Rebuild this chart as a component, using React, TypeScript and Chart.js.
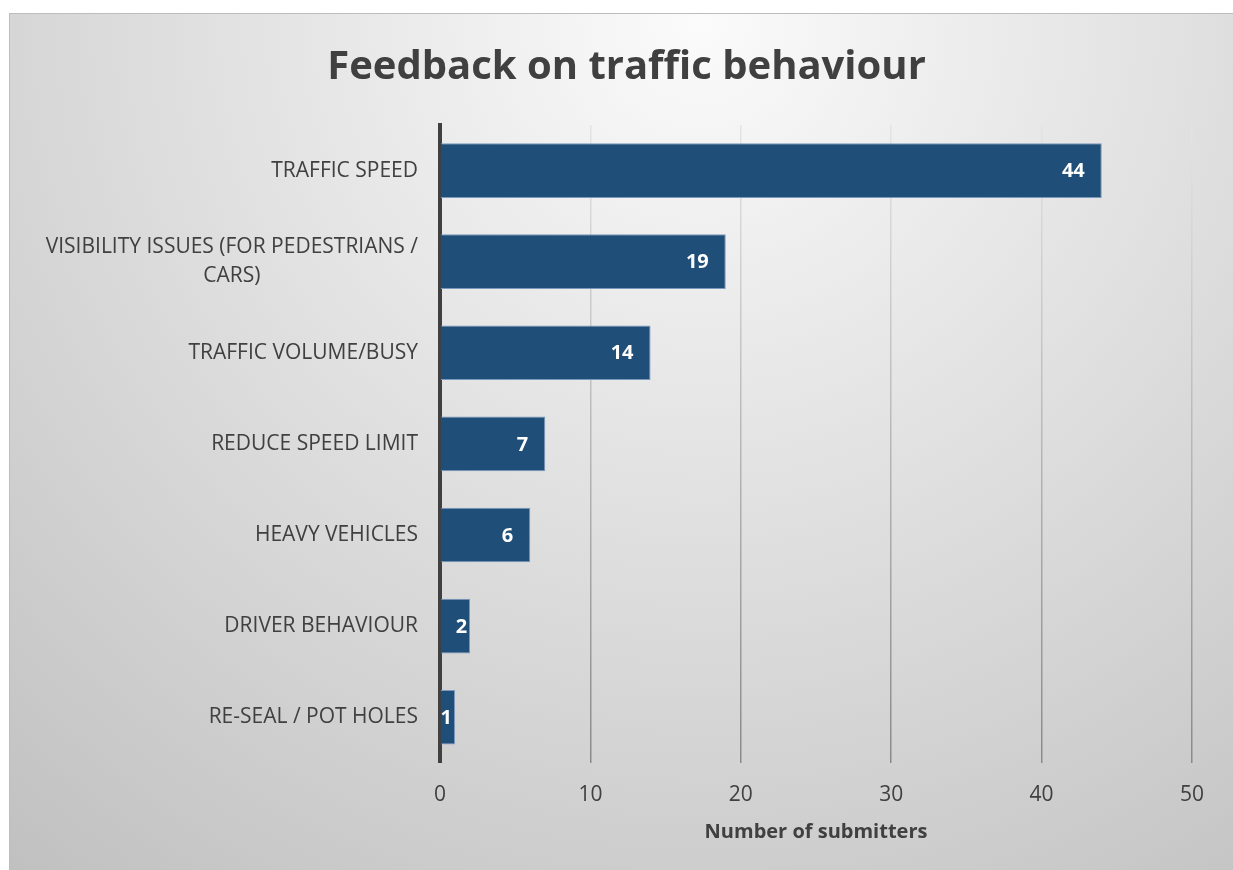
import React, { useEffect, useRef } from "react";
import { Chart, registerables } from "chart.js";

Chart.register(...registerables);

const chartTitle = "Feedback on traffic behaviour";
const axisTitle = "Number of submitters";
const categories: string[][] = [
  ["TRAFFIC SPEED"],
  ["VISIBILITY ISSUES (FOR PEDESTRIANS /", "CARS)"],
  ["TRAFFIC VOLUME/BUSY"],
  ["REDUCE SPEED LIMIT"],
  ["HEAVY VEHICLES"],
  ["DRIVER BEHAVIOUR"],
  ["RE-SEAL / POT HOLES"],
];
const submitters = [44, 19, 14, 7, 6, 2, 1];
const xMin = 0;
const xMax = 50;
const xStep = 10;

const FONT = "'Open Sans', 'DejaVu Sans', sans-serif";
const TEXT = "#404040";

const backgroundPlugin = {
  id: "bgBox",
  beforeDraw(chart: any) {
    const { ctx, width, height } = chart;
    ctx.save();
    ctx.fillStyle = "#ffffff";
    ctx.fillRect(0, 0, width, height);
    const g = ctx.createRadialGradient(700, 20, 0, 700, 20, 1100);
    g.addColorStop(0, "#fbfbfb");
    g.addColorStop(1, "#c0c0c0");
    ctx.fillStyle = g;
    ctx.fillRect(9, 13, width - 9, height - 13);
    ctx.strokeStyle = "#bdbdbd";
    ctx.lineWidth = 1;
    ctx.strokeRect(9.5, 13.5, width, height);
    ctx.restore();
  },
};

const categoryLabelPlugin = {
  id: "catLabels",
  afterDraw(chart: any) {
    const { ctx, chartArea } = chart;
    const yScale = chart.scales.y;
    ctx.save();
    ctx.font = `21px ${FONT}`;
    ctx.fillStyle = TEXT;
    ctx.textAlign = "center";
    ctx.textBaseline = "middle";
    const right = chartArea.left - 22;
    const lineH = 29.5;
    categories.forEach((lines, i) => {
      const yc = yScale.getPixelForTick(i);
      const maxW = Math.max(...lines.map((l) => ctx.measureText(l).width));
      const cx = right - maxW / 2;
      const start = yc - ((lines.length - 1) * lineH) / 2;
      lines.forEach((l, k) => ctx.fillText(l, cx, start + k * lineH));
    });
    ctx.restore();
  },
};

const valueLabelPlugin = {
  id: "valueLabels",
  afterDatasetsDraw(chart: any) {
    const { ctx } = chart;
    const meta = chart.getDatasetMeta(0);
    ctx.save();
    ctx.font = `bold 20px ${FONT}`;
    ctx.fillStyle = "#ffffff";
    ctx.textAlign = "right";
    ctx.textBaseline = "middle";
    meta.data.forEach((bar: any, i: number) => {
      const txt = String(submitters[i]);
      const w = ctx.measureText(txt).width;
      const barW = bar.x - bar.base;
      const pad = barW - w >= 34 ? 17 : 3;
      ctx.fillText(txt, bar.x - pad, bar.y + 1);
    });
    ctx.restore();
  },
};

export default function App() {
  const ref = useRef<HTMLCanvasElement | null>(null);

  useEffect(() => {
    if (!ref.current) return;
    const chart = new Chart(ref.current, {
      type: "bar",
      data: {
        labels: categories.map((c) => c.join(" ")),
        datasets: [
          {
            data: submitters,
            backgroundColor: "#1F4E79",
            borderColor: "#7b98bd",
            borderWidth: 1,
            barPercentage: 0.6,
            categoryPercentage: 1,
          },
        ],
      },
      options: {
        indexAxis: "y",
        responsive: false,
        animation: false,
        devicePixelRatio: 1,
        layout: { padding: { left: 20, right: 0, top: 0, bottom: 0 } },
        plugins: {
          legend: { display: false },
          tooltip: { enabled: false },
          title: {
            display: true,
            text: chartTitle,
            color: TEXT,
            font: { family: FONT, size: 40, weight: "bold" },
            padding: { top: 44, bottom: 33 },
          },
        },
        scales: {
          x: {
            min: xMin,
            max: xMax,
            ticks: {
              stepSize: xStep,
              color: TEXT,
              font: { family: FONT, size: 21 },
              padding: 20,
            },
            grid: {
              drawTicks: false,
              lineWidth: 1.5,
              color: (c: any) => {
                if (c.tick && c.tick.value === 0) return "rgba(0,0,0,0)";
                const ca = c.chart.chartArea;
                if (!ca) return "#bbbbbb";
                const g = c.chart.ctx.createLinearGradient(0, ca.top, 0, ca.bottom);
                g.addColorStop(0, "#e4e4e4");
                g.addColorStop(1, "#8a8a8a");
                return g;
              },
            },
            border: { display: false },
            title: {
              display: true,
              text: axisTitle,
              color: TEXT,
              font: { family: FONT, size: 20, weight: "bold" },
              padding: { top: -8, bottom: 26 },
            },
            afterFit: (s: any) => {
              s.paddingRight = 41;
            },
          },
          y: {
            z: 1,
            ticks: { display: false },
            grid: { display: false },
            border: { display: true, color: "#404040", width: 4 },
            afterFit: (s: any) => {
              s.width = 420;
            },
          },
        },
      },
      plugins: [backgroundPlugin, categoryLabelPlugin, valueLabelPlugin],
    } as any);
    return () => chart.destroy();
  }, []);

  return (
    <div style={{ position: "absolute", left: 0, top: 0, width: 1233, height: 870 }}>
      <canvas ref={ref} width={1233} height={870} style={{ display: "block", width: 1233, height: 870 }} />
    </div>
  );
}
